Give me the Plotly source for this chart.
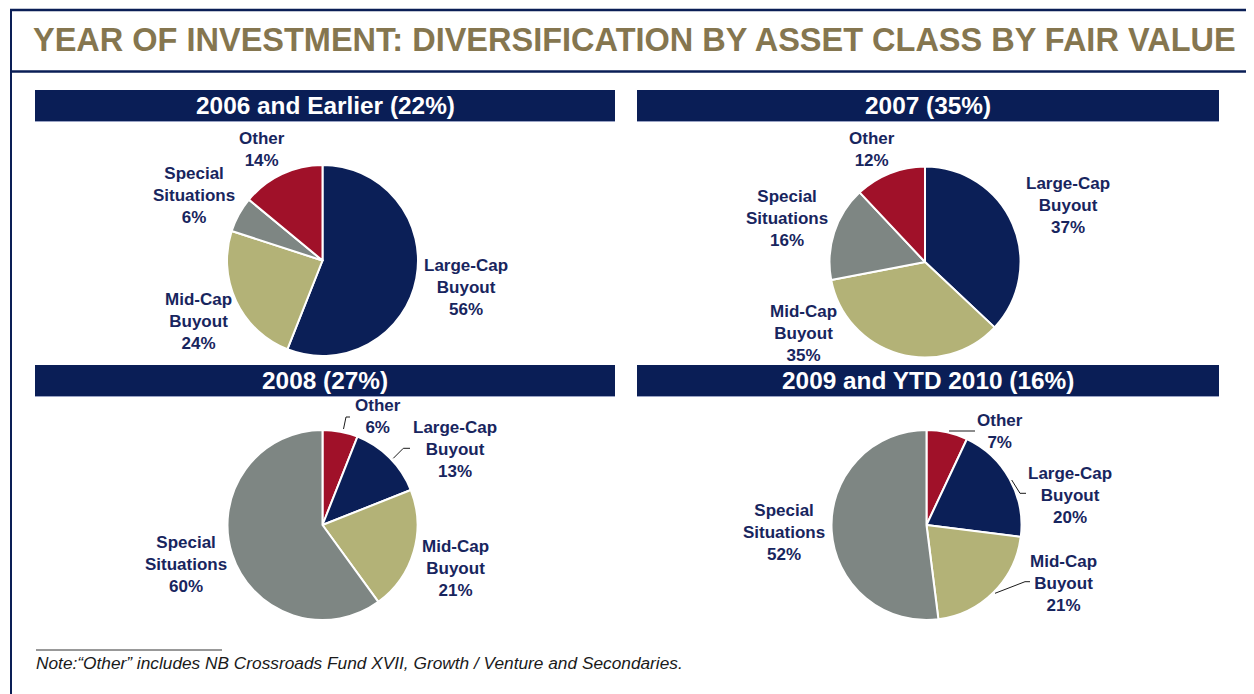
import plotly.graph_objects as go

# The page body adds an 8px margin; the figure is sized to fill the rest of the window.
OFF = 8
W, H = 1254 - OFF, 694 - OFF

# ---------------- data ----------------
title_text = "YEAR OF INVESTMENT: DIVERSIFICATION BY ASSET CLASS BY FAIR VALUE"
panel_titles = ["2006 and Earlier (22%)", "2007 (35%)", "2008 (27%)", "2009 and YTD 2010 (16%)"]

cats_2006 = ["Large-Cap Buyout", "Mid-Cap Buyout", "Special Situations", "Other"]
vals_2006 = [56, 24, 6, 14]

cats_2007 = ["Large-Cap Buyout", "Mid-Cap Buyout", "Special Situations", "Other"]
vals_2007 = [37, 35, 16, 12]

cats_2008 = ["Other", "Large-Cap Buyout", "Mid-Cap Buyout", "Special Situations"]
vals_2008 = [6, 13, 21, 60]

cats_2009 = ["Other", "Large-Cap Buyout", "Mid-Cap Buyout", "Special Situations"]
vals_2009 = [7, 20, 21, 52]

footnote = "Note:\u201cOther\u201d includes NB Crossroads Fund XVII, Growth / Venture and Secondaries."

# ---------------- styles ----------------
colors = {
    "Large-Cap Buyout": "#0B1F57",
    "Mid-Cap Buyout": "#B3B277",
    "Special Situations": "#7E8683",
    "Other": "#A01129",
}
display = {
    "Large-Cap Buyout": "Large-Cap<br>Buyout",
    "Mid-Cap Buyout": "Mid-Cap<br>Buyout",
    "Special Situations": "Special<br>Situations",
    "Other": "Other",
}
NAVY = "#0A1E56"
LABEL_C = "#18255E"
FONT = "Liberation Sans, Arial, sans-serif"


def px(x):
    return (x - OFF) / W


def py(y):
    return 1 - (y - OFF) / H


# panel layout in window pixels: pie centre / radius and header bar extent
panels = [
    dict(cats=cats_2006, vals=vals_2006, cx=322.5, cy=260.5, r=95.5, hx=(35, 615), hy=(90, 121)),
    dict(cats=cats_2007, vals=vals_2007, cx=925, cy=262, r=95.5, hx=(637, 1219), hy=(90, 121)),
    dict(cats=cats_2008, vals=vals_2008, cx=322.5, cy=525, r=95, hx=(35, 615), hy=(365, 396)),
    dict(cats=cats_2009, vals=vals_2009, cx=926.5, cy=525, r=95, hx=(637, 1219), hy=(365, 396)),
]

# label box centres per panel (window pixels), keyed by category
label_pos = [
    {"Other": (262, 149), "Special Situations": (194, 195), "Large-Cap Buyout": (466, 287), "Mid-Cap Buyout": (198, 321)},
    {"Other": (872, 149), "Special Situations": (787, 218), "Large-Cap Buyout": (1068, 206), "Mid-Cap Buyout": (803, 333)},
    {"Other": (378, 416), "Large-Cap Buyout": (455, 449), "Mid-Cap Buyout": (455, 568), "Special Situations": (186, 564)},
    {"Other": (1000, 431), "Large-Cap Buyout": (1070, 495), "Mid-Cap Buyout": (1063, 583), "Special Situations": (784, 532)},
]

# leader lines (window-pixel polylines)
leaders = [
    [(343.5, 429), (346, 417), (350, 417)],
    [(393.3, 458.3), (403.3, 448.3), (410, 448.3)],
    [(949, 431), (975, 431)],
    [(1011.7, 480), (1020, 493.3), (1026, 493.3)],
    [(995, 593.3), (1025, 581.7), (1030, 581.7)],
]

fig = go.Figure()
shapes = []
annotations = []

for i, p in enumerate(panels):
    cx, cy, r = p["cx"], p["cy"], p["r"]
    fig.add_trace(go.Pie(
        labels=p["cats"], values=p["vals"], sort=False, direction="clockwise", rotation=0,
        marker=dict(colors=[colors[c] for c in p["cats"]], line=dict(color="white", width=2)),
        textinfo="none", hoverinfo="label+percent", showlegend=False,
        domain=dict(x=[px(cx - r), px(cx + r)], y=[py(cy + r), py(cy - r)]),
    ))
    x0, x1 = p["hx"]
    y0, y1 = p["hy"]
    shapes.append(dict(type="rect", xref="paper", yref="paper", x0=px(x0), x1=px(x1),
                       y0=py(y1), y1=py(y0), fillcolor=NAVY, line=dict(width=0), layer="below"))
    shapes.append(dict(type="line", xref="paper", yref="paper", x0=px(x0), x1=px(x1),
                       y0=py(y1 + 0.5), y1=py(y1 + 0.5), line=dict(color="#9AA3C4", width=1)))
    annotations.append(dict(text="<b>%s</b>" % panel_titles[i], x=px((x0 + x1) / 2), y=py((y0 + y1) / 2),
                            xref="paper", yref="paper", showarrow=False, xanchor="center", yanchor="middle",
                            font=dict(family=FONT, size=24.4, color="white")))
    total = sum(p["vals"])
    for c, v in zip(p["cats"], p["vals"]):
        lx, ly = label_pos[i][c]
        annotations.append(dict(text="<b>%s<br>%d%%</b>" % (display[c], round(100 * v / total)),
                                x=px(lx), y=py(ly), xref="paper", yref="paper", showarrow=False,
                                xanchor="center", yanchor="middle", align="center",
                                font=dict(family=FONT, size=17, color=LABEL_C)))

for pts in leaders:
    for (a, b) in zip(pts[:-1], pts[1:]):
        shapes.append(dict(type="line", xref="paper", yref="paper", x0=px(a[0]), y0=py(a[1]),
                           x1=px(b[0]), y1=py(b[1]), line=dict(color="#1a1a1a", width=1)))

# frame
shapes += [
    dict(type="line", xref="paper", yref="paper", x0=px(10), x1=px(1254), y0=py(10), y1=py(10),
         line=dict(color=NAVY, width=2.5)),
    dict(type="line", xref="paper", yref="paper", x0=px(10), x1=px(1254), y0=py(71.5), y1=py(71.5),
         line=dict(color=NAVY, width=2.5)),
    dict(type="line", xref="paper", yref="paper", x0=px(11), x1=px(11), y0=py(10), y1=py(694),
         line=dict(color=NAVY, width=2)),
    dict(type="line", xref="paper", yref="paper", x0=px(36), x1=px(222), y0=py(650), y1=py(650),
         line=dict(color="#333333", width=1)),
]

annotations.append(dict(text="<b>%s</b>" % title_text, x=px(634.5), y=py(40), xref="paper", yref="paper",
                        showarrow=False, xanchor="center", yanchor="middle",
                        font=dict(family=FONT, size=32.5, color="#85764F")))
annotations.append(dict(text="<i>%s</i>" % footnote, x=px(34), y=py(663), xref="paper", yref="paper",
                        showarrow=False, xanchor="left", yanchor="middle",
                        font=dict(family=FONT, size=17.3, color="#1a1a1a")))

fig.update_layout(width=W, height=H, margin=dict(l=0, r=0, t=0, b=0),
                  paper_bgcolor="white", plot_bgcolor="white",
                  shapes=shapes, annotations=annotations)

fig.write_html("out.html")
